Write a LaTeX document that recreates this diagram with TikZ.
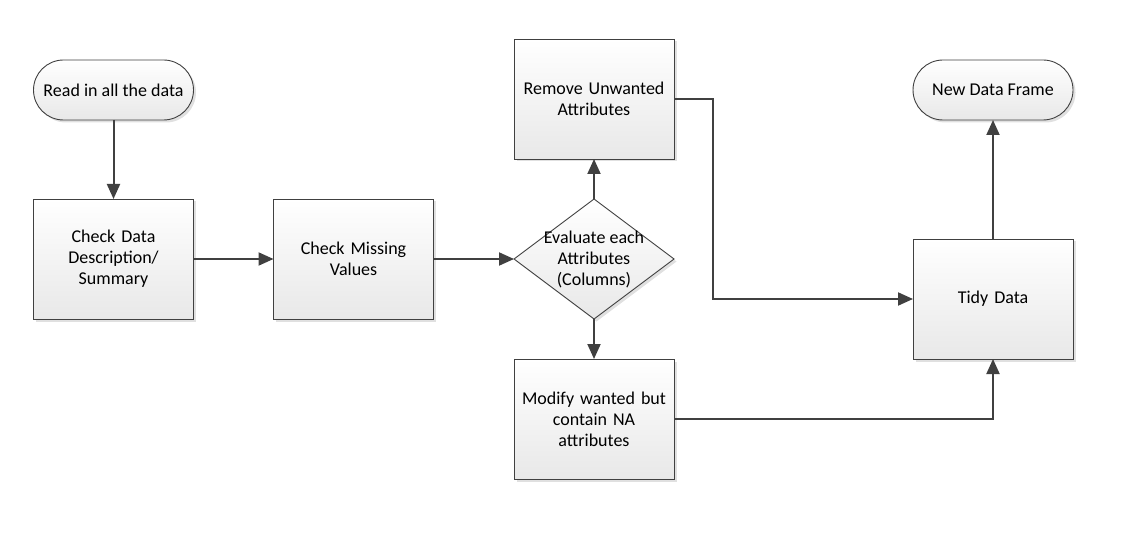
\documentclass[tikz,border=0pt]{standalone}
\usepackage{fontspec}
\setmainfont{Carlito}
\usetikzlibrary{arrows.meta,shapes.geometric,shadows}
\begin{document}
\begin{tikzpicture}[x=1pt,y=-1pt,
  base/.style={draw=black!75,line width=0.9pt,top color=white,bottom color=black!9,
    drop shadow={shadow xshift=2.5pt,shadow yshift=-2.5pt,opacity=0.35,fill=black!35},
    inner sep=2pt,outer sep=0pt,align=center,font=\fontsize{18}{21}\selectfont},
  procbox/.style={base,minimum width=160pt,minimum height=120pt,text width=154pt},
  termbox/.style={base,rounded corners=30pt,minimum width=160pt,minimum height=60pt},
  decbox/.style={base,diamond,minimum width=160pt,minimum height=120pt,inner sep=0pt},
  lbl/.style={align=center,font=\fontsize{18}{21}\selectfont,inner sep=0pt},
  conn/.style={draw=black!75,line width=2pt,-{Triangle[length=15pt,width=13pt]}}
]
\useasboundingbox (0,0) rectangle (1140,537);
\node[termbox] (start) at (113.5,90) {Read in all the data};
\node[procbox] (desc) at (113.5,259) {Check Data\\Description/\\Summary};
\node[procbox] (miss) at (353.5,259) {Check Missing\\Values};
\node[decbox] (eval) at (594,259) {};
\node[lbl] (evaltxt) at (594,259) {Evaluate each\\Attributes\\(Columns)};
\node[procbox] (remove) at (594,99) {Remove Unwanted\\Attributes};
\node[procbox] (modify) at (594,419) {Modify wanted but\\contain NA\\attributes};
\node[procbox] (tidy) at (993,299) {Tidy Data};
\node[termbox] (new) at (993,90) {New Data Frame};
\coordinate (c1) at (713,99);
\coordinate (c2) at (713,299);
\coordinate (c3) at (993,419);
\draw[conn] (start) -- (desc);
\draw[conn] (desc) -- (miss);
\draw[conn] (miss) -- (eval.west);
\draw[conn] (eval.north) -- (remove);
\draw[conn] (eval.south) -- (modify);
\draw[conn] (remove.east) -- (c1) -- (c2) -- (tidy.west);
\draw[conn] (modify.east) -- (c3) -- (tidy.south);
\draw[conn] (tidy) -- (new);
\end{tikzpicture}
\end{document}
